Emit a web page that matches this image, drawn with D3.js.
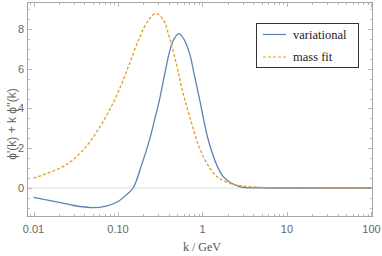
<!DOCTYPE html>
<html><head><meta charset="utf-8">
<script src="https://cdn.jsdelivr.net/npm/d3@7/dist/d3.min.js"></script>
<style>body{margin:0;background:#fff}svg{display:block}</style>
</head><body>
<svg id="c" width="382" height="256"></svg>
<script>
const kVar = [0.01,0.02,0.03,0.05,0.07,0.1,0.125,0.151,0.19,0.237,0.27,0.312,0.36,0.41,0.46,0.526,0.6,0.705,0.8,0.925,1.21,1.74,2.74,5,10,30,100];
const vVar = [-0.47,-0.72,-0.88,-0.99,-0.93,-0.68,-0.35,0,1.15,2.45,3.4,4.5,5.8,6.9,7.5,7.77,7.5,6.75,5.7,4.45,2.2,0.6,0.07,0.01,0,0,0];
const kFit = [0.01,0.0206,0.03,0.0465,0.07,0.1,0.138,0.181,0.23,0.279,0.34,0.41,0.5,0.57,0.705,0.925,1.2,1.5,2.09,3,5,10,30,100];
const vFit = [0.5,1.0,1.45,2.33,3.5,4.8,6.3,7.6,8.45,8.78,8.5,7.5,6.1,5.0,3.6,2.0,1.05,0.55,0.24,0.1,0.03,0.01,0,0];
const xTicks = [0.01,0.1,1,10,100];
const xTickLabels = ["0.01","0.10","1","10","100"];
const yTicks = [0,2,4,6,8];
const seriesNames = ["variational","mass fit"];

const L=27,R=373,T=2,B=217;
const x = d3.scaleLog().domain([Math.pow(10,-2.077),Math.pow(10,2.018)]).range([L,R]);
const y = d3.scaleLinear().domain([-1.459,9.358]).range([B,T]);
const svg = d3.select("#c");
const frameCol="#a6a6a6", tickCol="#a6a6a6", labCol="#666";

svg.append("line").attr("x1",L).attr("x2",R).attr("y1",y(0)).attr("y2",y(0)).attr("stroke","#dcdcdc").attr("stroke-width",1);

const minorX=[];
for(let e=-3;e<=2;e++) for(let m=1;m<10;m++){const v=m*Math.pow(10,e); if(v>=x.domain()[0]&&v<=x.domain()[1]) minorX.push({v,major:m===1});}
const minorY=[];
for(let v=-1.5;v<=9.5;v+=0.5){if(v>=y.domain()[0]&&v<=y.domain()[1]) minorY.push({v,major:Math.abs(v/2-Math.round(v/2))<1e-9});}

const g=svg.append("g").attr("stroke",tickCol).attr("stroke-width",0.8);
minorX.forEach(d=>{const len=d.major?5:3; const px=Math.round(x(d.v))+0.5;
  g.append("line").attr("x1",px).attr("x2",px).attr("y1",B).attr("y2",B-len);
  g.append("line").attr("x1",px).attr("x2",px).attr("y1",T).attr("y2",T+len);});
minorY.forEach(d=>{const len=d.major?5:3; const py=Math.round(y(d.v))+0.5;
  g.append("line").attr("x1",L).attr("x2",L+len).attr("y1",py).attr("y2",py);
  g.append("line").attr("x1",R).attr("x2",R-len).attr("y1",py).attr("y2",py);});

svg.append("rect").attr("x",L+0.5).attr("y",T+0.5).attr("width",R-L-1).attr("height",B-T-1).attr("fill","none").attr("stroke",frameCol).attr("stroke-width",1);

xTicks.forEach((t,i)=>svg.append("text").attr("x",x(t)).attr("y",233).attr("text-anchor","middle")
  .attr("font-family","Liberation Sans, Arial, sans-serif").attr("font-size",11).attr("fill",labCol).text(xTickLabels[i]));
yTicks.forEach(t=>svg.append("text").attr("x",24).attr("y",y(t)+4).attr("text-anchor","end")
  .attr("font-family","Liberation Sans, Arial, sans-serif").attr("font-size",11).attr("fill",labCol).text(t));

svg.append("text").attr("x",202).attr("y",251).attr("text-anchor","middle").attr("font-family","Liberation Serif, Times New Roman, serif")
  .attr("font-size",12).attr("fill","#555").text("k / GeV");
svg.append("text").attr("transform","translate(16,124) rotate(-90)").attr("text-anchor","middle")
  .attr("font-family","Liberation Sans, Arial, sans-serif").attr("font-size",12).attr("fill",labCol).text("ϕ'(k) + k ϕ''(k)");

const line=d3.line().x(d=>x(d[0])).y(d=>y(d[1])).curve(d3.curveCatmullRom.alpha(0.5));
svg.append("clipPath").attr("id","cp").append("rect").attr("x",L).attr("y",T).attr("width",R-L).attr("height",B-T);
svg.append("path").datum(kVar.map((k,i)=>[k,vVar[i]])).attr("d",line).attr("fill","none").attr("stroke","#5E81B5").attr("stroke-width",1.3).attr("clip-path","url(#cp)");
svg.append("path").datum(kFit.map((k,i)=>[k,vFit[i]])).attr("d",line).attr("fill","none").attr("stroke","#E19C24").attr("stroke-width",1.3).attr("stroke-dasharray","3,2").attr("clip-path","url(#cp)");

const lg=svg.append("g");
lg.append("rect").attr("x",256.5).attr("y",23.5).attr("width",102).attr("height",44).attr("fill","#fff").attr("stroke","#333").attr("stroke-width",1);
const styles=[{c:"#5E81B5",d:null},{c:"#E19C24",d:"3,2"}];
seriesNames.forEach((n,i)=>{const yy=34.5+i*22.5;
  const l=lg.append("line").attr("x1",263).attr("x2",286).attr("y1",yy).attr("y2",yy).attr("stroke",styles[i].c).attr("stroke-width",1.2);
  if(styles[i].d) l.attr("stroke-dasharray",styles[i].d);
  lg.append("text").attr("x",293).attr("y",yy+4).attr("font-family","Liberation Serif, Times New Roman, serif").attr("font-size",12.5).attr("fill","#222").text(n);});
</script>
</body></html>
